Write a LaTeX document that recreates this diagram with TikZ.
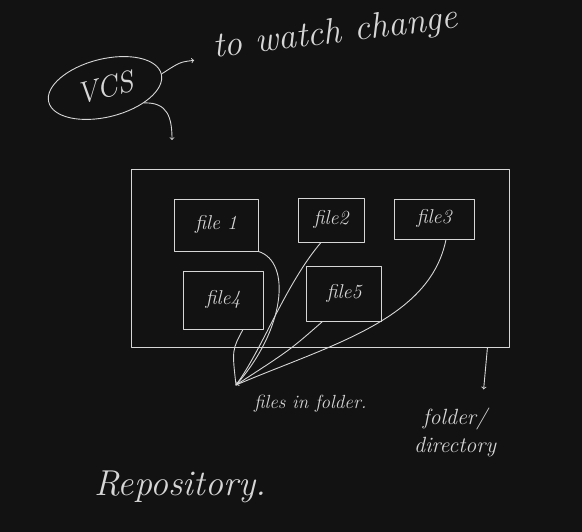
\documentclass[tikz,border=0pt]{standalone}
\usetikzlibrary{shapes.geometric}
\definecolor{board}{HTML}{121212}
\definecolor{chalk}{HTML}{D6D6D6}
\begin{document}
\begin{tikzpicture}[
        x=1pt, y=-1pt,
        chalk line/.style={draw=chalk, line width=0.9pt, line cap=round, line join=round},
        filebox/.style={chalk line, rectangle, inner sep=0pt, text=chalk, font=\fontsize{20}{20}\selectfont\itshape},
        words/.style={text=chalk, inner sep=0pt, font=\itshape},
    ]
    \useasboundingbox[fill=board] (0,0) rectangle (582,532);
    \node[chalk line, ellipse, minimum width=116pt, minimum height=58pt, rotate=14, inner sep=0pt,
          text=chalk, font=\fontsize{30}{30}\selectfont\itshape](vcs) at (105,88){VCS};
    \node[words, anchor=base west, rotate=7, font=\fontsize{36}{36}\selectfont\itshape](watch) at (214,58){to watch change};
    \node[chalk line, rectangle, minimum width=378pt, minimum height=178pt](folder) at (320,258){};
    \node[filebox, minimum width=84pt, minimum height=52pt](file1) at (216,225){file 1};
    \node[filebox, minimum width=66pt, minimum height=44pt](file2) at (331,220){file2};
    \node[filebox, minimum width=80pt, minimum height=40pt](file3) at (434,219){file3};
    \node[filebox, minimum width=80pt, minimum height=58pt](file4) at (223,300){file4};
    \node[filebox, minimum width=75pt, minimum height=55pt](file5) at (344,294){file5};
    \coordinate(hub) at (236,385);
    \coordinate(down) at (172,140);
    \node[words, anchor=west, font=\fontsize{19}{19}\selectfont\itshape](infolder) at (254,404){files in folder.};
    \node[words, align=center, font=\fontsize{22}{28}\selectfont\itshape](dir) at (455,432){folder/\\ directory};
    \node[words, font=\fontsize{36}{36}\selectfont\itshape](repo) at (180,487){Repository.};
    \draw[chalk line, ->, shorten >=20pt] (vcs.east) .. controls (180,62) .. (watch.base west);
    \draw[chalk line, ->] (vcs.-35) .. controls (168,102) and (172,118) .. (down);
    \draw[chalk line] (file1.south east) .. controls (292,262) and (285,330) .. (hub);
    \draw[chalk line] ([xshift=-10pt]file2.south) .. controls (285,285) and (262,350) .. (hub);
    \draw[chalk line] ([xshift=12pt]file3.south) .. controls (430,320) and (330,345) .. (hub);
    \draw[chalk line] ([xshift=20pt]file4.south) .. controls (232,350) .. (hub);
    \draw[chalk line, ->] ([xshift=-22pt]file5.south) .. controls (290,350) .. (hub);
    \draw[chalk line, ->, shorten >=18pt] ([xshift=-22pt]folder.south east) -- (dir.north -| 482,0);
\end{tikzpicture}
\end{document}
